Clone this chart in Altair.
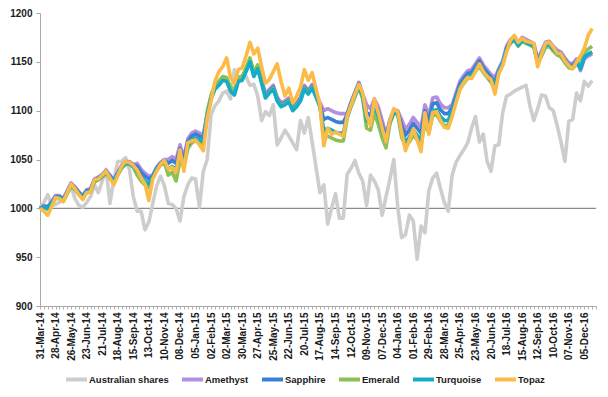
import json
import altair as alt
import pandas as pd

series_names = ["Australian shares", "Amethyst", "Sapphire", "Emerald", "Turquoise", "Topaz"]
series_colors = ["#cdcdcd", "#b48ee0", "#3a7fd2", "#8cc152", "#13adc9", "#fbbb46"]

tick_labels = ["31-Mar-14", "28-Apr-14", "26-May-14", "23-Jun-14", "21-Jul-14", "18-Aug-14",
               "15-Sep-14", "13-Oct-14", "10-Nov-14", "08-Dec-14", "05-Jan-15", "02-Feb-15",
               "02-Mar-15", "30-Mar-15", "27-Apr-15", "25-May-15", "22-Jun-15", "20-Jul-15",
               "17-Aug-15", "14-Sep-15", "12-Oct-15", "09-Nov-15", "07-Dec-15", "04-Jan-16",
               "01-Feb-16", "29-Feb-16", "28-Mar-16", "25-Apr-16", "23-May-16", "20-Jun-16",
               "18-Jul-16", "15-Aug-16", "12-Sep-16", "10-Oct-16", "07-Nov-16", "05-Dec-16"]

australian_shares = [
    1000, 1006, 1014, 1003, 1004, 1006, 1011, 1016, 1022, 1010,
    1003, 1001, 1006, 1012, 1024, 1016, 1028, 1040, 1005, 1030,
    1048, 1048, 1052, 1040, 1012, 997, 997, 978, 986, 1005,
    1023, 1033, 1023, 1005, 1004, 1000, 987, 1012, 1024, 1031,
    1030, 1001, 1038, 1050, 1096, 1105, 1110, 1118, 1120, 1112,
    1142, 1133, 1136, 1135, 1126, 1127, 1115, 1090, 1099, 1095,
    1106, 1065, 1072, 1080, 1074, 1067, 1060, 1090, 1077, 1093,
    1068, 1042, 1016, 1024, 984, 1000, 1015, 990, 990, 1035,
    1041, 1049, 1036, 1028, 1003, 1034, 1028, 1019, 993, 1012,
    1030, 1050, 1002, 970, 973, 993, 987, 948, 982, 975,
    1018, 1031, 1036, 1020, 1006, 997, 1034, 1047, 1054, 1060,
    1067, 1082, 1094, 1068, 1076, 1048, 1038, 1064, 1065, 1098,
    1115, 1117, 1120, 1122, 1124, 1126, 1105, 1090, 1102, 1116,
    1115, 1103, 1100, 1085, 1068, 1048, 1089, 1091, 1118, 1110,
    1130, 1125, 1131]

amethyst = [
    1000, 1003, 1002, 1007, 1013, 1013, 1010, 1018, 1026, 1022,
    1017, 1013, 1019, 1020, 1030, 1032, 1035, 1039, 1034, 1029,
    1037, 1044, 1048, 1048, 1045, 1046, 1040, 1036, 1033, 1034,
    1042, 1047, 1050, 1050, 1053, 1050, 1065, 1052, 1071, 1077,
    1079, 1077, 1075, 1097, 1114, 1124, 1128, 1133, 1132, 1122,
    1118, 1132, 1133, 1142, 1152, 1137, 1145, 1132, 1117, 1122,
    1126, 1114, 1108, 1110, 1113, 1104, 1108, 1114, 1126, 1121,
    1127, 1118, 1108, 1100, 1102, 1100, 1098, 1097, 1097, 1097,
    1109, 1119, 1129, 1117, 1106, 1102, 1112, 1104, 1090, 1075,
    1091, 1101, 1100, 1091, 1081, 1086, 1093, 1088, 1083, 1106,
    1095, 1113, 1114, 1107, 1103, 1103, 1106, 1118, 1130, 1136,
    1141, 1142, 1148, 1154, 1147, 1142, 1137, 1134, 1143, 1151,
    1166, 1173, 1176, 1170, 1175, 1173, 1171, 1169, 1153, 1161,
    1170, 1171, 1166, 1162, 1160, 1154, 1149, 1148, 1153, 1141,
    1153, 1156, 1158]

sapphire = [
    1000, 1002, 1001, 1006, 1012, 1012, 1009, 1017, 1025, 1021,
    1016, 1012, 1018, 1019, 1029, 1031, 1034, 1038, 1033, 1028,
    1036, 1043, 1047, 1047, 1044, 1043, 1037, 1033, 1030, 1033,
    1041, 1046, 1049, 1046, 1049, 1046, 1061, 1049, 1068, 1074,
    1076, 1074, 1072, 1096, 1113, 1123, 1127, 1132, 1131, 1121,
    1117, 1131, 1132, 1141, 1151, 1136, 1144, 1130, 1115, 1120,
    1124, 1112, 1106, 1108, 1111, 1102, 1106, 1112, 1124, 1119,
    1125, 1116, 1106, 1091, 1093, 1091, 1089, 1088, 1088, 1096,
    1108, 1118, 1128, 1116, 1098, 1095, 1109, 1099, 1085, 1072,
    1090, 1100, 1099, 1085, 1075, 1080, 1087, 1082, 1077, 1100,
    1089, 1107, 1108, 1101, 1097, 1097, 1103, 1115, 1127, 1133,
    1138, 1139, 1145, 1151, 1144, 1139, 1134, 1129, 1141, 1149,
    1164, 1171, 1174, 1168, 1173, 1171, 1169, 1167, 1151, 1159,
    1168, 1169, 1164, 1160, 1158, 1152, 1147, 1146, 1151, 1143,
    1155, 1158, 1160]

emerald = [
    1000, 1000, 999, 1004, 1010, 1010, 1007, 1015, 1023, 1019,
    1014, 1010, 1016, 1017, 1027, 1029, 1032, 1036, 1031, 1026,
    1034, 1041, 1045, 1045, 1042, 1034, 1028, 1024, 1021, 1031,
    1039, 1044, 1047, 1034, 1037, 1028, 1049, 1042, 1061, 1067,
    1069, 1067, 1065, 1099, 1116, 1126, 1130, 1135, 1134, 1124,
    1120, 1134, 1135, 1144, 1154, 1139, 1147, 1129, 1114, 1119,
    1123, 1111, 1105, 1107, 1110, 1101, 1105, 1111, 1123, 1118,
    1124, 1115, 1105, 1072, 1074, 1072, 1070, 1069, 1069, 1092,
    1104, 1114, 1124, 1112, 1082, 1080, 1098, 1086, 1072, 1062,
    1087, 1097, 1096, 1073, 1063, 1068, 1075, 1070, 1065, 1088,
    1077, 1095, 1096, 1089, 1085, 1085, 1098, 1110, 1122, 1128,
    1133, 1134, 1140, 1146, 1139, 1134, 1129, 1122, 1139, 1147,
    1162, 1169, 1172, 1166, 1171, 1169, 1167, 1165, 1148, 1156,
    1165, 1166, 1161, 1157, 1155, 1149, 1144, 1143, 1148, 1148,
    1160, 1163, 1166]

turquoise = [
    1000, 1001, 1000, 1005, 1011, 1011, 1008, 1016, 1024, 1020,
    1015, 1011, 1017, 1018, 1028, 1030, 1033, 1037, 1032, 1027,
    1035, 1042, 1046, 1046, 1043, 1038, 1032, 1028, 1025, 1032,
    1040, 1045, 1048, 1040, 1043, 1040, 1055, 1045, 1064, 1070,
    1072, 1070, 1068, 1095, 1112, 1122, 1126, 1131, 1130, 1120,
    1116, 1130, 1131, 1140, 1150, 1135, 1143, 1128, 1113, 1118,
    1122, 1110, 1104, 1106, 1109, 1100, 1104, 1110, 1122, 1117,
    1123, 1114, 1104, 1080, 1082, 1080, 1078, 1077, 1077, 1094,
    1106, 1116, 1126, 1114, 1090, 1088, 1106, 1094, 1080, 1068,
    1088, 1098, 1097, 1078, 1068, 1073, 1080, 1075, 1070, 1093,
    1082, 1100, 1101, 1094, 1090, 1090, 1100, 1112, 1124, 1130,
    1135, 1136, 1142, 1148, 1141, 1136, 1131, 1124, 1140, 1148,
    1163, 1170, 1173, 1167, 1172, 1170, 1168, 1166, 1150, 1158,
    1167, 1168, 1163, 1159, 1157, 1151, 1146, 1145, 1150, 1143,
    1155, 1158, 1160]

topaz = [
    1000, 997, 993, 1002, 1011, 1010, 1007, 1016, 1025, 1020,
    1014, 1009, 1016, 1017, 1029, 1030, 1034, 1038, 1031, 1024,
    1034, 1043, 1048, 1047, 1044, 1039, 1031, 1025, 1008, 1030,
    1038, 1045, 1049, 1040, 1042, 1037, 1060, 1038, 1067, 1069,
    1070, 1065, 1059, 1092, 1110, 1130, 1140, 1145, 1154, 1134,
    1128, 1142, 1144, 1156, 1170, 1158, 1164, 1145, 1128, 1132,
    1140, 1148, 1130, 1115, 1123, 1108, 1115, 1124, 1142, 1131,
    1139, 1122, 1106, 1064, 1082, 1076, 1078, 1076, 1074, 1094,
    1106, 1117, 1127, 1118, 1095, 1085, 1112, 1098, 1082, 1068,
    1090, 1102, 1099, 1078, 1059, 1070, 1081, 1070, 1058, 1098,
    1076, 1098, 1099, 1090, 1083, 1082, 1094, 1108, 1122, 1129,
    1134, 1133, 1140, 1148, 1140, 1135, 1132, 1117, 1138, 1146,
    1160, 1172, 1177, 1170, 1174, 1171, 1170, 1169, 1145, 1158,
    1169, 1170, 1165, 1159, 1158, 1151, 1146, 1143, 1150, 1156,
    1164, 1177, 1184]

all_values = [australian_shares, amethyst, sapphire, emerald, turquoise, topaz]

rows = []
for name, vals in zip(series_names, all_values):
    for i, v in enumerate(vals):
        rows.append({"week": i, "series": name, "value": v})
df = pd.DataFrame(rows)

n_weeks = max(len(v) for v in all_values)
FONT = "Liberation Sans"

label_expr = ("datum.value % 4 == 0 ? " + json.dumps(tick_labels) +
              "[datum.value / 4] : ''")

x_enc = alt.X(
    "week:Q",
    scale=alt.Scale(domain=[0, n_weeks], nice=False, zero=False),
    axis=alt.Axis(
        values=list(range(n_weeks + 1)), labelExpr=label_expr, labelAngle=-90,
        labelOverlap=False, labelFont=FONT, labelFontSize=10, labelFontWeight="bold",
        labelColor="#1a1a1a", labelPadding=3, tickSize=3, tickColor="#b0b0b0",
        domainColor="#a8a8a8", grid=False, title=None, labelFlush=False,
    ),
)
y_enc = alt.Y(
    "value:Q",
    scale=alt.Scale(domain=[900, 1200], nice=False, zero=False),
    axis=alt.Axis(
        values=[900, 950, 1000, 1050, 1100, 1150, 1200], format="d", grid=False, title=None,
        labelFont=FONT, labelFontSize=10, labelFontWeight="bold", labelColor="#1a1a1a",
        tickSize=4, tickColor="#a8a8a8", domainColor="#a8a8a8", labelPadding=4,
    ),
)

color_enc = alt.Color(
    "series:N",
    scale=alt.Scale(domain=series_names, range=series_colors),
    legend=alt.Legend(
        title=None, orient="none", legendX=24, legendY=354, direction="horizontal",
        symbolType="stroke", symbolStrokeWidth=4, symbolSize=440, gridAlign="none",
        labelFont=FONT, labelFontSize=9.5, labelFontWeight="bold", labelColor="#1a1a1a",
        columnPadding=5, labelLimit=300, labelOffset=0,
    ),
)

base_rule = alt.Chart(pd.DataFrame({"value": [1000]})).mark_rule(
    color="#8c8c8c", strokeWidth=1.3
).encode(y=alt.Y("value:Q"))

layers = [base_rule]
for name in series_names:
    layers.append(
        alt.Chart(df).transform_filter(alt.datum.series == name)
        .mark_line(strokeWidth=3.6, strokeJoin="round")
        .encode(x=x_enc, y=y_enc, color=color_enc)
    )

chart = alt.layer(*layers).properties(
    width=556, height=293,
    autosize=alt.AutoSizeParams(type="none"),
    padding={"left": 32, "top": 5, "right": 4, "bottom": 83},
).configure_view(stroke=None)

chart.save("out.html", embed_options={"renderer": "svg", "actions": False})
